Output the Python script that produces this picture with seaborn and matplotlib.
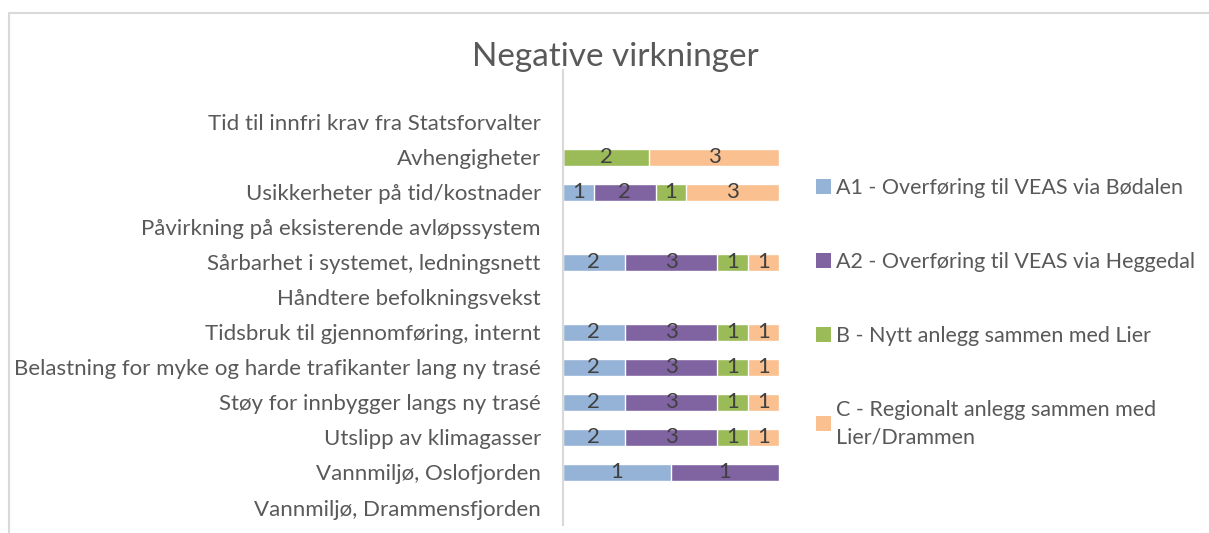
import numpy as np
import pandas as pd
import seaborn as sns
import matplotlib.pyplot as plt
from matplotlib.patches import Rectangle, Patch

categories = [
    "Tid til innfri krav fra Statsforvalter",
    "Avhengigheter",
    "Usikkerheter på tid/kostnader",
    "Påvirkning på eksisterende avløpssystem",
    "Sårbarhet i systemet, ledningsnett",
    "Håndtere befolkningsvekst",
    "Tidsbruk til gjennomføring, internt",
    "Belastning for myke og harde trafikanter lang ny trasé",
    "Støy for innbygger langs ny trasé",
    "Utslipp av klimagasser",
    "Vannmiljø, Oslofjorden",
    "Vannmiljø, Drammensfjorden",
]
a1 = [0, 0, 1, 0, 2, 0, 2, 2, 2, 2, 1, 0]
a2 = [0, 0, 2, 0, 3, 0, 3, 3, 3, 3, 1, 0]
b = [0, 2, 1, 0, 1, 0, 1, 1, 1, 1, 0, 0]
c = [0, 3, 3, 0, 1, 0, 1, 1, 1, 1, 0, 0]

series_names = [
    "A1 - Overføring til VEAS via Bødalen",
    "A2 - Overføring til VEAS via Heggedal",
    "B - Nytt anlegg sammen med Lier",
    "C - Regionalt anlegg sammen med\nLier/Drammen",
]
colors = ["#95B3D7", "#8064A2", "#9BBB59", "#FAC090"]

sns.set_theme(style="white")
plt.rcParams["font.family"] = ["Lato", "DejaVu Sans"]

df = pd.DataFrame({"A1": a1, "A2": a2, "B": b, "C": c}, index=categories)
total = df.sum(axis=1).replace(0, np.nan)
share = df.div(total, axis=0).fillna(0)
cum = share.cumsum(axis=1)

fig = plt.figure(figsize=(12.09, 5.33), dpi=100)
ax = fig.add_axes([563 / 1209, 1 - 525 / 533, 216 / 1209, 455 / 533])

# overlay cumulative bars, widest first
for col, color in reversed(list(zip(df.columns, colors))):
    sns.barplot(x=cum[col].values, y=categories, color=color, orient="h",
                width=0.51, ax=ax, saturation=1, order=categories)

for col in df.columns:
    for i, cat in enumerate(categories):
        v = df.loc[cat, col]
        if v > 0:
            xc = cum.loc[cat, col] - share.loc[cat, col] / 2
            ax.text(xc, i, str(v), ha="center", va="center",
                    fontsize=16, color="#404040")

ax.set_xlim(0, 1)
ax.set_ylim(11.5, -1.5)
ax.set_xlabel("")
ax.set_ylabel("")
ax.set_xticks([])
ax.tick_params(axis="y", length=0, pad=16, labelsize=16, labelcolor="#595959")
for s in ["top", "right", "bottom"]:
    ax.spines[s].set_visible(False)
ax.spines["left"].set_color("#D9D9D9")
ax.spines["left"].set_linewidth(1.5)

fig.text(615 / 1209, 1 - 57 / 533, "Negative virkninger", ha="center", va="center",
         fontsize=24, color="#595959")

handles = [Patch(facecolor=col, edgecolor="none") for col in colors]
leg = fig.legend(handles, series_names, loc="upper left",
                 bbox_to_anchor=(797 / 1209, 1 - 159 / 533), frameon=False,
                 fontsize=15.5, labelcolor="#595959", handlelength=0.7,
                 handleheight=0.7, handletextpad=0.2, labelspacing=2.5)
leg.get_texts()[3].set_linespacing(1.45)

fig.add_artist(Rectangle((9 / 1209, -0.05), 1.1, 1 - 13 / 533 + 0.05,
                         transform=fig.transFigure, fill=False,
                         edgecolor="#D9D9D9", linewidth=1.5))

fig.savefig("out.png", dpi=100)
